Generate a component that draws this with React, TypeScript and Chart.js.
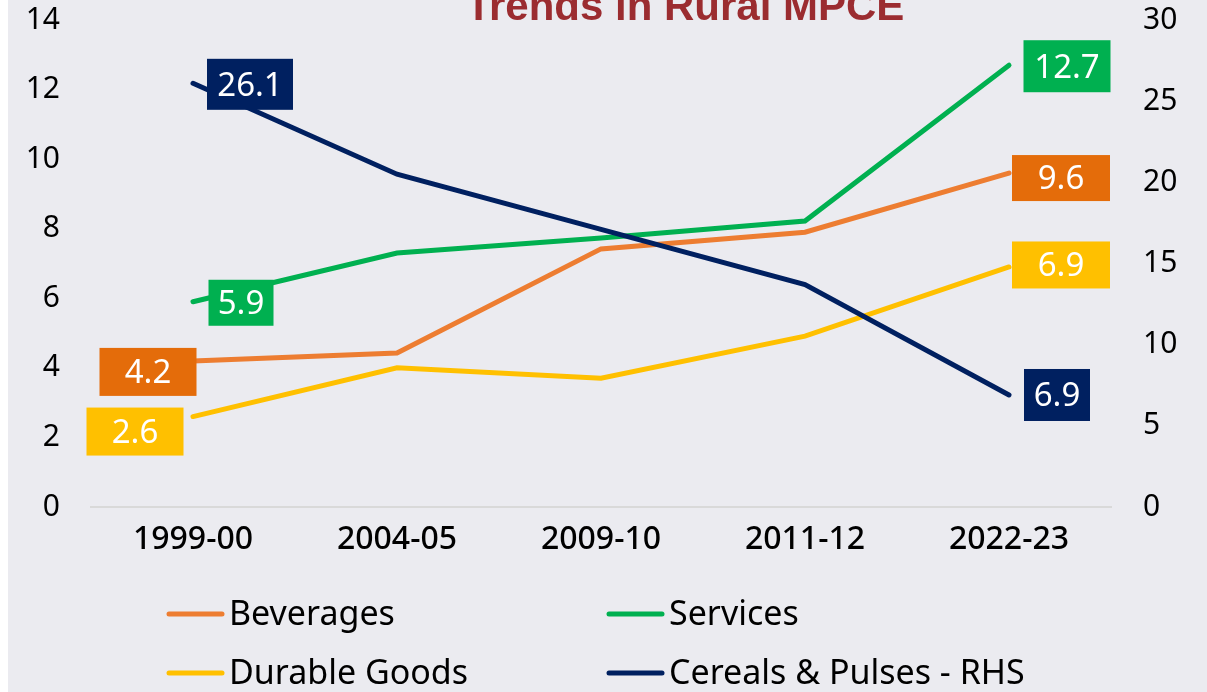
import React, { useEffect, useRef } from "react";
import { Chart, registerables } from "chart.js";

Chart.register(...registerables);

const categories = ["1999-00", "2004-05", "2009-10", "2011-12", "2022-23"];
const beverages = [4.2, 4.43, 7.42, 7.9, 9.6];
const services = [5.9, 7.3, 7.73, 8.22, 12.7];
const durableGoods = [2.6, 4.0, 3.7, 4.91, 6.9];
const cerealsPulses = [26.1, 20.5, 17.1, 13.7, 6.9];
const seriesNames = ["Beverages", "Services", "Durable Goods", "Cereals & Pulses - RHS"];
const titleText = "Trends in Rural MPCE";

const lineColors = ["#ED7D31", "#00B050", "#FFC000", "#002060"];
const labelColors = ["#E46C0A", "#00B050", "#FFC000", "#002060"];
const BG = "#EBEBF0";
const FONT = "'Noto Sans', sans-serif";

// label placement: dataset index, point index, offset x/y from point, box w/h
const labelBoxes = [
  { ds: 3, i: 0, dx: 57, dy: 1, w: 86, h: 51 },
  { ds: 1, i: 0, dx: 48, dy: 1, w: 65, h: 46 },
  { ds: 0, i: 0, dx: -45, dy: 11, w: 97, h: 48 },
  { ds: 2, i: 0, dx: -58, dy: 15, w: 97, h: 48 },
  { ds: 1, i: 4, dx: 58, dy: 1, w: 87, h: 52 },
  { ds: 0, i: 4, dx: 52, dy: 5, w: 98, h: 46 },
  { ds: 2, i: 4, dx: 52, dy: -2, w: 98, h: 47 },
  { ds: 3, i: 4, dx: 48, dy: 0, w: 66, h: 52 },
];

const legendSlots = [
  { x: 159, y: 654 },
  { x: 599, y: 654 },
  { x: 159, y: 713 },
  { x: 599, y: 713 },
];

const customPlugin = {
  id: "custom",
  beforeDraw(chart: any) {
    const ctx = chart.ctx;
    ctx.save();
    ctx.fillStyle = BG;
    ctx.fillRect(0, 0, chart.width, chart.height);
    ctx.restore();
  },
  afterDraw(chart: any) {
    const ctx = chart.ctx;
    ctx.save();
    // title
    ctx.fillStyle = "#9B2C30";
    ctx.font = "bold 42px 'Liberation Sans', Arial, sans-serif";
    ctx.textAlign = "center";
    ctx.textBaseline = "alphabetic";
    ctx.fillText(titleText, 677, 60);

    // data labels
    ctx.font = `33px ${FONT}`;
    ctx.textAlign = "center";
    ctx.textBaseline = "middle";
    labelBoxes.forEach((b) => {
      const p = chart.getDatasetMeta(b.ds).data[b.i];
      const ds = chart.data.datasets[b.ds];
      const cx = p.x + b.dx;
      const cy = p.y + b.dy;
      ctx.fillStyle = labelColors[b.ds];
      ctx.fillRect(cx - b.w / 2, cy - b.h / 2, b.w, b.h);
      ctx.fillStyle = "#FFFFFF";
      ctx.fillText(String(ds.data[b.i]), cx, cy + 2);
    });

    // legend
    ctx.font = `34px ${FONT}`;
    ctx.textAlign = "left";
    ctx.textBaseline = "middle";
    chart.data.datasets.forEach((ds: any, k: number) => {
      const s = legendSlots[k];
      ctx.strokeStyle = ds.borderColor;
      ctx.lineWidth = 5;
      ctx.lineCap = "round";
      ctx.beginPath();
      ctx.moveTo(s.x + 2, s.y);
      ctx.lineTo(s.x + 55, s.y);
      ctx.stroke();
      ctx.fillStyle = "#000000";
      ctx.fillText(ds.label, s.x + 62, s.y + 1);
    });
    ctx.restore();
  },
};

export default function App() {
  const ref = useRef<HTMLCanvasElement>(null);
  useEffect(() => {
    document.documentElement.style.overflow = "hidden";
    const datasets = [beverages, services, durableGoods, cerealsPulses].map((d, k) => ({
      label: seriesNames[k],
      data: d,
      borderColor: lineColors[k],
      backgroundColor: lineColors[k],
      borderWidth: 5,
      pointRadius: 0,
      tension: 0,
      borderCapStyle: "round" as const,
      yAxisID: k === 3 ? "y1" : "y",
      order: 3 - k,
    }));
    const chart = new Chart(ref.current!, {
      type: "line",
      data: { labels: categories, datasets },
      options: {
        responsive: false,
        animation: false,
        layout: { padding: { top: 60, bottom: 125, left: 0, right: 0 } },
        plugins: { legend: { display: false }, title: { display: false }, tooltip: { enabled: false } },
        scales: {
          x: {
            offset: true,
            grid: { display: false, drawTicks: false },
            border: { display: true, color: "#D9D9D9", width: 2 },
            ticks: { color: "#000", font: { family: FONT, size: 32, weight: 500 }, padding: 14 },
            afterFit: (s: any) => { s.height = 60; },
          },
          y: {
            position: "left",
            min: 0,
            max: 14,
            grid: { display: false, drawTicks: false },
            border: { display: false },
            ticks: { stepSize: 2, color: "#000", font: { family: FONT, size: 30 }, padding: 31 },
            afterFit: (s: any) => { s.width = 83; },
          },
          y1: {
            position: "right",
            min: 0,
            max: 30,
            grid: { display: false, drawTicks: false },
            border: { display: false },
            ticks: { stepSize: 5, color: "#000", font: { family: FONT, size: 30 }, padding: 32 },
            afterFit: (s: any) => { s.width = 96; },
          },
        },
      },
      plugins: [customPlugin],
    });
    return () => chart.destroy();
  }, []);
  return (
    <div style={{ position: "absolute", top: -40, left: 8, width: 1199, height: 732, background: BG, overflow: "hidden" }}>
      <canvas ref={ref} width={1199} height={732} style={{ display: "block" }} />
    </div>
  );
}
